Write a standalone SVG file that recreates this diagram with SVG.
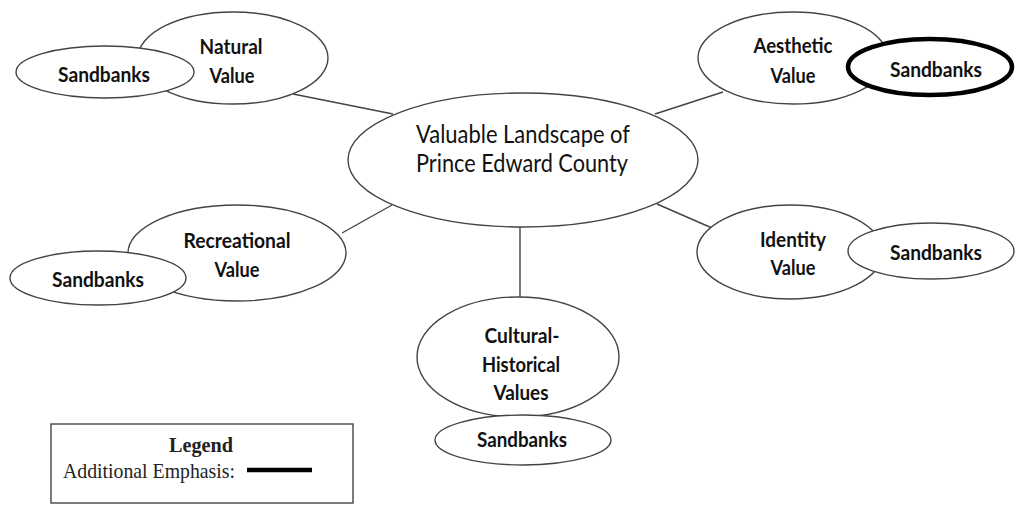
<svg xmlns="http://www.w3.org/2000/svg" width="1016" height="506" viewBox="0 0 1016 506">
<style>
.n{fill:#fff;stroke:#444;stroke-width:1.4}
.e{fill:#fff;stroke:#000;stroke-width:4.5}
.t{font-family:Lato,"Open Sans",sans-serif;font-weight:bold;font-size:21px;fill:#111;text-anchor:middle}
.c{font-family:Lato,"Open Sans",sans-serif;font-size:25px;fill:#111;text-anchor:middle}
.l{font-family:"Liberation Serif",serif;fill:#222}
.k{stroke:#444;stroke-width:1.4;fill:none}
</style>
<rect width="1016" height="506" fill="#fff"/>
<g id="connectors">
<line class="k" x1="293" y1="94" x2="393" y2="114"/>
<line class="k" x1="655" y1="114" x2="723" y2="92"/>
<line class="k" x1="392" y1="205" x2="342" y2="233"/>
<line class="k" x1="657" y1="204" x2="712" y2="228"/>
<line class="k" x1="520" y1="227" x2="520" y2="297"/>
</g>
<g id="central">
<ellipse class="n" cx="523" cy="160" rx="175" ry="67"/>
<text class="c" x="523" y="143" textLength="214" lengthAdjust="spacingAndGlyphs">Valuable Landscape of</text>
<text class="c" x="522" y="172" textLength="212" lengthAdjust="spacingAndGlyphs">Prince Edward County</text>
</g>
<g id="natural">
<ellipse class="n" cx="233" cy="58" rx="95" ry="46"/>
<text class="t" x="231" y="54" textLength="63" lengthAdjust="spacingAndGlyphs">Natural</text>
<text class="t" x="232" y="83" textLength="45" lengthAdjust="spacingAndGlyphs">Value</text>
</g>
<g id="natural-sandbanks">
<ellipse class="n" cx="105" cy="72" rx="89" ry="26"/>
<text class="t" x="104" y="82" textLength="92" lengthAdjust="spacingAndGlyphs">Sandbanks</text>
</g>
<g id="aesthetic">
<ellipse class="n" cx="793" cy="58" rx="95" ry="46"/>
<text class="t" x="793" y="53" textLength="79" lengthAdjust="spacingAndGlyphs">Aesthetic</text>
<text class="t" x="793" y="83" textLength="45" lengthAdjust="spacingAndGlyphs">Value</text>
</g>
<g id="aesthetic-sandbanks">
<ellipse class="e" cx="930" cy="67" rx="82" ry="28"/>
<text class="t" x="936" y="77" textLength="92" lengthAdjust="spacingAndGlyphs">Sandbanks</text>
</g>
<g id="recreational">
<ellipse class="n" cx="237" cy="253" rx="109" ry="48"/>
<text class="t" x="237" y="248" textLength="107" lengthAdjust="spacingAndGlyphs">Recreational</text>
<text class="t" x="237" y="277" textLength="45" lengthAdjust="spacingAndGlyphs">Value</text>
</g>
<g id="recreational-sandbanks">
<ellipse class="n" cx="98" cy="278" rx="88" ry="27"/>
<text class="t" x="98" y="287" textLength="92" lengthAdjust="spacingAndGlyphs">Sandbanks</text>
</g>
<g id="identity">
<ellipse class="n" cx="790" cy="252" rx="93" ry="47"/>
<text class="t" x="793" y="247" textLength="66" lengthAdjust="spacingAndGlyphs">Identity</text>
<text class="t" x="793" y="275" textLength="45" lengthAdjust="spacingAndGlyphs">Value</text>
</g>
<g id="identity-sandbanks">
<ellipse class="n" cx="931" cy="251" rx="83" ry="28"/>
<text class="t" x="936" y="260" textLength="92" lengthAdjust="spacingAndGlyphs">Sandbanks</text>
</g>
<g id="cultural">
<ellipse class="n" cx="518" cy="357" rx="101" ry="60"/>
<text class="t" x="522" y="343" textLength="75" lengthAdjust="spacingAndGlyphs">Cultural-</text>
<text class="t" x="521" y="372" textLength="78" lengthAdjust="spacingAndGlyphs">Historical</text>
<text class="t" x="521" y="400" textLength="55" lengthAdjust="spacingAndGlyphs">Values</text>
</g>
<g id="cultural-sandbanks">
<ellipse class="n" cx="523" cy="440" rx="88" ry="25"/>
<text class="t" x="522" y="447" textLength="90" lengthAdjust="spacingAndGlyphs">Sandbanks</text>
</g>
<g id="legend">
<rect x="51" y="424" width="302" height="79" fill="#fff" stroke="#444" stroke-width="1.4"/>
<text class="l" x="201" y="452" font-size="21" font-weight="bold" text-anchor="middle" textLength="64" lengthAdjust="spacingAndGlyphs">Legend</text>
<text class="l" x="63" y="478" font-size="21" textLength="172" lengthAdjust="spacingAndGlyphs">Additional Emphasis:</text>
<line x1="247" y1="470" x2="312" y2="470" stroke="#000" stroke-width="4.5"/>
</g>
</svg>
